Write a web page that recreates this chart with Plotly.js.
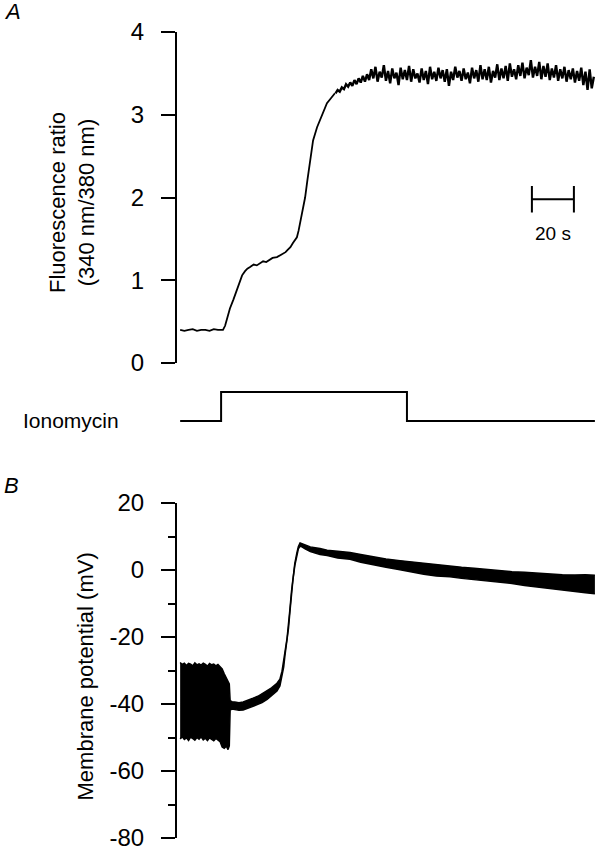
<!DOCTYPE html>
<html>
<head>
<meta charset="utf-8">
<script src="https://cdn.plot.ly/plotly-3.0.1.min.js"></script>
<style>
html, body { margin: 0; padding: 0; background: #fff; }
#chart { width: 600px; height: 852px; }
</style>
</head>
<body>
<div id="chart"></div>
<script>
// Panel A - fluorescence ratio (340/380), time in s
const ratioTime = [0, 2, 4, 6, 8, 10, 12, 14, 16, 18,
    20.4, 21.4, 22.5, 23.7, 25.4, 27.1, 28.4, 29.5, 30.9, 32,
    33.3, 35, 36.5, 38, 39.5, 41, 42.5, 44, 46.1, 47.5,
    49, 50.2, 51.3, 52.5, 53.7, 54.6, 55.6, 56.4, 57.1, 58.3,
    59.5, 60.6, 61.8, 63.3, 65.2, 67.5, 69.9, 71.8, 73.7];
const ratioValue = [0.40, 0.39, 0.40, 0.41, 0.39, 0.40, 0.40, 0.39, 0.41, 0.40,
    0.40, 0.45, 0.55, 0.66, 0.77, 0.88, 0.98, 1.06, 1.11, 1.14,
    1.16, 1.19, 1.18, 1.21, 1.23, 1.22, 1.25, 1.27, 1.28, 1.30,
    1.32, 1.34, 1.37, 1.40, 1.45, 1.48, 1.52, 1.60, 1.69, 1.84,
    2.00, 2.21, 2.42, 2.69, 2.85, 3.00, 3.14, 3.20, 3.26];

// noisy plateau, one sample every second from plateauStart
const plateauStart = 74;
const plateauRatio = [
    3.26, 3.30, 3.28, 3.33, 3.31, 3.37, 3.34, 3.39, 3.35, 3.42, 3.37, 3.44, 3.39, 3.47, 3.40, 3.49,
    3.42, 3.55, 3.44, 3.58, 3.40, 3.52, 3.45, 3.60, 3.41, 3.53, 3.38, 3.56,
    3.44, 3.51, 3.36, 3.57, 3.43, 3.54, 3.42, 3.59, 3.40, 3.55, 3.44, 3.50,
    3.39, 3.56, 3.42, 3.53, 3.37, 3.58, 3.43, 3.52, 3.41, 3.57, 3.44, 3.54,
    3.40, 3.55, 3.35, 3.52, 3.42, 3.58, 3.45, 3.53, 3.41, 3.56, 3.43, 3.51,
    3.38, 3.57, 3.44, 3.54, 3.40, 3.60, 3.43, 3.55, 3.42, 3.58, 3.39, 3.53,
    3.45, 3.61, 3.42, 3.56, 3.44, 3.59, 3.41, 3.62, 3.46, 3.55, 3.43, 3.60,
    3.47, 3.63, 3.44, 3.57, 3.48, 3.66, 3.45, 3.58, 3.47, 3.64, 3.43, 3.59,
    3.46, 3.62, 3.42, 3.56, 3.45, 3.60, 3.41, 3.55, 3.44, 3.58, 3.40, 3.54,
    3.43, 3.56, 3.39, 3.53, 3.41, 3.57, 3.36, 3.52, 3.30, 3.55, 3.32, 3.46];

// ionomycin application (0 = off, 1 = on)
const ionTime = [0, 19.5, 19.5, 108, 108, 197.5];
const ionLevel = [0, 0, 1, 1, 0, 0];

// Panel B - membrane potential, upper and lower edge of the trace (mV)
const vmTime = [0, 1, 2, 3, 4, 5, 6, 7, 8, 9, 10, 11, 12, 13, 14, 15, 16, 17, 18, 19,
    20, 21, 22, 22.8, 23.4, 23.8, 24.7, 26, 28, 30, 32, 34.7, 37, 39, 41.4, 43.5,
    46.1, 47.5, 48.5, 49.3, 49.9, 50.9, 51.6, 52.3, 53, 53.7, 54.6, 55.6, 56.3, 57.1, 58,
    59.5, 62, 66.6, 70, 75, 80.9, 86, 92, 98, 104.7, 110, 116, 122, 128.5, 134,
    140, 146, 152.3, 158, 164, 170, 176.1, 182, 188, 193, 197.5];
const vmUpper = [-27.6, -28.2, -27.8, -28.5, -27.9, -28.1, -28.6, -27.7, -28.3, -28.0,
    -28.4, -27.8, -28.2, -28.7, -27.9, -28.3, -28.1, -28.6, -28.2, -28.8,
    -29.5, -31.0, -32.2, -33.0, -34.0, -39.0, -39.3, -39.4, -39.6, -39.4, -39.0,
    -38.3, -37.7, -37.0, -36.1, -35.2, -33.8, -32.6, -30.2, -27.6, -24.5,
    -20.4, -16.5, -11.5, -6.5, -2.3, 2.0, 5.2, 7.0, 8.1, 7.9,
    7.5, 6.9, 6.4, 5.9, 5.6, 5.2, 4.6, 3.9, 3.3, 2.8,
    2.4, 2.0, 1.5, 1.2, 0.8, 0.5, 0.1, -0.2, -0.5, -0.7,
    -1.0, -1.2, -1.4, -1.5, -1.4, -1.6];
const vmLower = [-50.4, -49.8, -50.6, -50.1, -50.9, -49.9, -50.3, -50.8, -50.0, -50.5,
    -49.8, -50.7, -50.2, -50.9, -50.1, -50.6, -51.0, -50.3, -50.8, -51.2,
    -52.8, -53.2, -52.6, -53.6, -52.5, -41.8, -41.5, -41.7, -41.9, -41.8, -41.4,
    -40.7, -40.1, -39.6, -38.6, -37.6, -36.1, -34.6, -31.8, -29.0, -25.6,
    -21.4, -17.4, -12.3, -7.3, -3.0, 1.3, 4.5, 6.3, 7.1, 6.9,
    6.3, 5.5, 4.6, 4.3, 3.6, 3.2, 2.3, 1.5, 0.8, 0.1,
    -0.6, -1.3, -1.8, -2.0, -2.5, -2.9, -3.3, -3.5, -4.0, -4.6,
    -5.1, -5.6, -6.0, -6.4, -6.8, -7.1];

// axis ticks
const ratioTicks = [0, 1, 2, 3, 4];
const vmTicks = [-80, -60, -40, -20, 0, 20];
const vmTickText = ['-80', '-60', '-40', '-20', '0', '20'];

// 20 s scale bar (drawn in panel A data units)
const scaleBarStart = 167.5;
const scaleBarLength = 20;
const scaleBarY = 1.98;
const scaleBarCap = 0.16;

const font = 'Liberation Sans, Arial, Helvetica, sans-serif';
const black = '#000';

var data = [
    {x: ratioTime, y: ratioValue, type: 'scatter', mode: 'lines', line: {color: black, width: 1.8}, xaxis: 'x', yaxis: 'y'},
    {y: plateauRatio, x0: plateauStart, dx: 1, type: 'scatter', mode: 'lines', line: {color: black, width: 2.4}, xaxis: 'x', yaxis: 'y'},
    {
        x: [scaleBarStart, scaleBarStart, scaleBarStart, scaleBarStart + scaleBarLength, scaleBarStart + scaleBarLength, scaleBarStart + scaleBarLength],
        y: [scaleBarY + scaleBarCap, scaleBarY - scaleBarCap, scaleBarY, scaleBarY, scaleBarY + scaleBarCap, scaleBarY - scaleBarCap],
        type: 'scatter', mode: 'lines', line: {color: black, width: 2}, xaxis: 'x', yaxis: 'y'
    },
    {x: ionTime, y: ionLevel, type: 'scatter', mode: 'lines', line: {color: black, width: 2}, xaxis: 'x', yaxis: 'y3'},
    {x: vmTime, y: vmUpper, type: 'scatter', mode: 'lines', line: {color: black, width: 1.5}, xaxis: 'x', yaxis: 'y2'},
    {x: vmTime, y: vmLower, type: 'scatter', mode: 'lines', line: {color: black, width: 1.5}, fill: 'tonexty', fillcolor: black, xaxis: 'x', yaxis: 'y2'}
];

var yAxisBase = {
    anchor: 'x',
    showline: true, linecolor: black, linewidth: 2,
    ticks: 'outside', ticklen: 14, tickwidth: 2, tickcolor: black,
    ticklabelstandoff: 12,
    tickfont: {family: font, size: 24, color: black},
    showgrid: false, zeroline: false, fixedrange: true
};

var layout = {
    width: 600, height: 852,
    margin: {l: 0, r: 0, t: 0, b: 0},
    paper_bgcolor: '#fff', plot_bgcolor: '#fff',
    showlegend: false,
    hovermode: false,
    font: {family: font, color: black},
    xaxis: {visible: false, range: [-1.5, 198.5], domain: [0.295, 0.995], fixedrange: true},
    yaxis: Object.assign({}, yAxisBase, {
        domain: [0.5739, 0.9624], range: [0, 4], tickvals: ratioTicks
    }),
    yaxis2: Object.assign({}, yAxisBase, {
        domain: [0.01643, 0.40962], range: [-80, 20],
        tickvals: vmTicks, ticktext: vmTickText,
        minor: {dtick: 10, ticks: 'outside', ticklen: 7, tickwidth: 2, tickcolor: black}
    }),
    yaxis3: {anchor: 'x', domain: [0.49906, 0.54671], range: [-0.2, 1.2], visible: false, fixedrange: true},
    annotations: [
        {text: 'A', xref: 'paper', yref: 'paper', x: 0.003, y: 0.986, xanchor: 'left', yanchor: 'middle',
         showarrow: false, font: {family: font, size: 22, style: 'italic'}},
        {text: 'B', xref: 'paper', yref: 'paper', x: 0.003, y: 0.4296, xanchor: 'left', yanchor: 'middle',
         showarrow: false, font: {family: font, size: 22, style: 'italic'}},
        {text: 'Fluorescence ratio<br>(340 nm/380 nm)', xref: 'paper', yref: 'paper', x: 0.12, y: 0.7617,
         xanchor: 'center', yanchor: 'middle', textangle: -90, showarrow: false, font: {family: font, size: 22}},
        {text: 'Membrane potential (mV)', xref: 'paper', yref: 'paper', x: 0.1433, y: 0.206,
         xanchor: 'center', yanchor: 'middle', textangle: -90, showarrow: false, font: {family: font, size: 22}},
        {text: 'Ionomycin', xref: 'paper', yref: 'paper', x: 0.035, y: 0.507,
         xanchor: 'left', yanchor: 'middle', showarrow: false, font: {family: font, size: 21}},
        {text: '20 s', xref: 'x', yref: 'y', x: scaleBarStart + scaleBarLength / 2, y: 1.56,
         xanchor: 'center', yanchor: 'middle', showarrow: false, font: {family: font, size: 19}}
    ]
};

Plotly.newPlot('chart', data, layout, {staticPlot: true, displayModeBar: false});
</script>
</body>
</html>
